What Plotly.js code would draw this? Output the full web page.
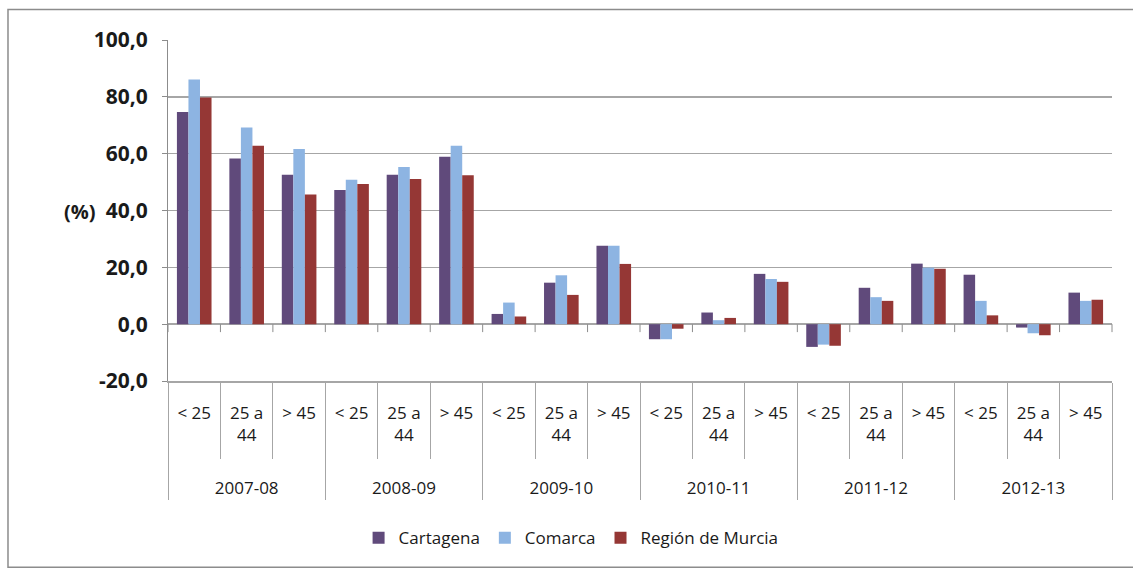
<!DOCTYPE html>
<html>
<head>
<meta charset="utf-8">
<script src="https://cdn.plot.ly/plotly-3.0.1.min.js"></script>
<style>html,body{margin:0;padding:0;background:#fff;}#chart{width:1133px;height:571px;}</style>
</head>
<body>
<div id="chart"></div>
<script>
const years = ["2007-08", "2008-09", "2009-10", "2010-11", "2011-12", "2012-13"];
const ageGroups = ["< 25", "25 a<br>44", "> 45"];
const seriesNames = ["Cartagena", "Comarca", "Región de Murcia"];
const cartagena = [74.7, 58.3, 52.6, 47.2, 52.6, 58.9, 3.6, 14.6, 27.6, -5.3, 4.1, 17.7, -8.0, 12.8, 21.3, 17.4, -1.2, 11.1];
const comarca   = [86.1, 69.2, 61.6, 50.8, 55.3, 62.8, 7.6, 17.2, 27.6, -5.3, 1.4, 15.9, -7.2, 9.5, 19.9, 8.2, -3.2, 8.2];
const murcia    = [79.8, 62.8, 45.6, 49.3, 51.1, 52.4, 2.7, 10.3, 21.2, -1.6, 2.2, 14.9, -7.6, 8.2, 19.5, 3.1, -3.9, 8.6];
const yTicks = [-20, 0, 20, 40, 60, 80, 100];
const colors = ["#604A7B", "#8DB4E2", "#953735"];

const outer = [], inner = [];
years.forEach(y => ageGroups.forEach(a => { outer.push("<br><br>" + y); inner.push(a); }));
const xCats = [outer, inner];
const values = [cartagena, comarca, murcia];

const traces = values.map((v, i) => ({
  type: "bar",
  name: seriesNames[i],
  x: xCats,
  y: v,
  marker: {color: colors[i]},
  hoverinfo: "y+name"
}));

const nCats = outer.length;
const shapes = [];
for (let i = 0; i <= nCats; i++) {
  shapes.push({type: "line", xref: "paper", yref: "y", x0: i / nCats, x1: i / nCats, y0: 0, y1: -2.8,
    line: {color: "#8c8c8c", width: 1}});
}
shapes.push({type: "rect", xref: "paper", yref: "paper", x0: -0.1695, x1: 1.06, y0: -0.546, y1: 1.0896,
  line: {color: "#8c8c8c", width: 1.5}, fillcolor: "rgba(0,0,0,0)", layer: "below"});

const layout = {
  width: 1133, height: 571,
  margin: {l: 168, r: 21, t: 40, b: 190},
  paper_bgcolor: "#ffffff", plot_bgcolor: "#ffffff",
  barmode: "group",
  bargap: 0.34, bargroupgap: 0,
  font: {family: "Open Sans, sans-serif", color: "#1a1a1a"},
  showlegend: true,
  legend: {orientation: "h", x: 0.427, xanchor: "center", y: -0.461, yanchor: "middle",
    font: {size: 17, family: "Open Sans, sans-serif", color: "#1a1a1a"}, traceorder: "normal"},
  xaxis: {
    type: "multicategory",
    showline: true, linecolor: "#a6a6a6", linewidth: 1.5,
    ticks: "outside", tickson: "boundaries", ticklen: 76, tickcolor: "#a6a6a6", tickwidth: 1,
    showdividers: true, dividercolor: "#a6a6a6", dividerwidth: 1,
    ticklabelstandoff: 16,
    tickfont: {size: 17, family: "Open Sans, sans-serif", color: "#1a1a1a"},
    showgrid: false, zeroline: false
  },
  yaxis: {
    range: [-20, 100], tickvals: yTicks,
    ticktext: yTicks.map(v => v.toFixed(1).replace(".", ",")),
    showgrid: true, gridcolor: "#a6a6a6", gridwidth: 1.5,
    zeroline: true, zerolinecolor: "#a6a6a6", zerolinewidth: 1.5,
    showline: true, linecolor: "#8c8c8c", linewidth: 1,
    ticks: "outside", ticklen: 5, tickcolor: "#8c8c8c",
    ticklabelstandoff: 10,
    tickfont: {size: 21, family: "Open Sans, sans-serif", weight: 700, color: "#1a1a1a"}
  },
  annotations: [{
    text: "(%)", xref: "paper", yref: "paper", x: -0.112, y: 0.496, showarrow: false,
    font: {size: 20, family: "Open Sans, sans-serif", weight: 700, color: "#1a1a1a"}
  }],
  shapes: shapes
};

Plotly.newPlot("chart", traces, layout, {displayModeBar: false, staticPlot: true});
</script>
</body>
</html>
